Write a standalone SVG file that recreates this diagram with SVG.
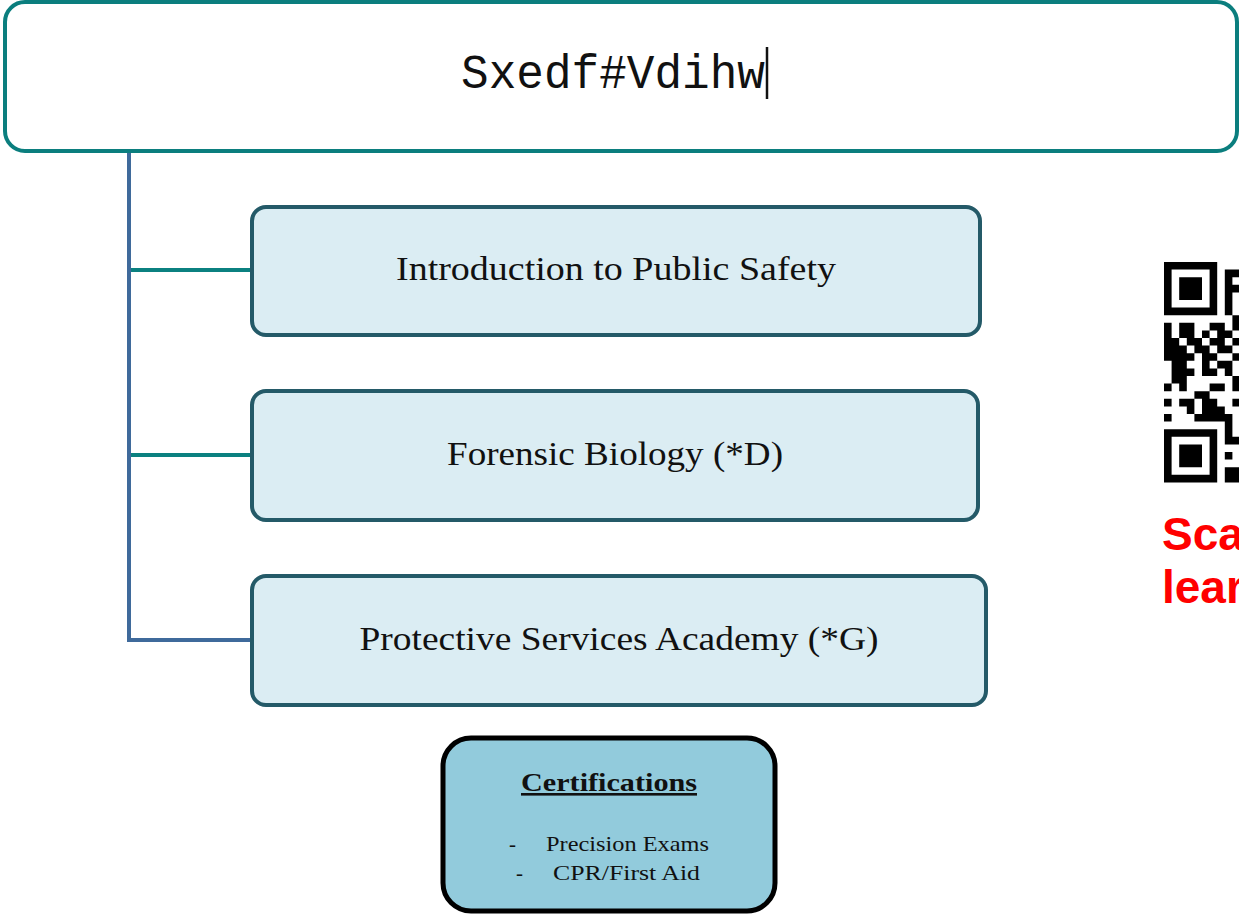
<svg xmlns="http://www.w3.org/2000/svg" width="1239" height="914" viewBox="0 0 1239 914">
<style>
.node{fill:#dbedf3;stroke:#245a68;stroke-width:4}
.lbl{font-family:"Liberation Serif",serif;font-size:33px;fill:#111;text-anchor:middle}
.conn{fill:none;stroke-width:4}
.blue{stroke:#3f6a9b}
.teal{stroke:#0b8180}
.small{font-family:"Liberation Serif",serif;font-size:21px;fill:#111}
.red{font-family:"Liberation Sans",Arial,sans-serif;font-weight:bold;font-size:46px;fill:#ff0000}
</style>
<rect width="1239" height="914" fill="#ffffff"/>
<g id="connectors">
<path class="conn blue" d="M129 151V640H252"/>
<path class="conn teal" d="M131 270H252"/>
<path class="conn teal" d="M131 455H252"/>
</g>
<g id="title">
<rect x="5" y="2" width="1232" height="149" rx="20" fill="#ffffff" stroke="#0b7e7e" stroke-width="4"/>
<text x="461" y="88" font-family="Liberation Mono,monospace" font-size="48" fill="#111" textLength="304" lengthAdjust="spacingAndGlyphs">Sxedf#Vdihw</text>
<line x1="767" y1="47" x2="767" y2="99" stroke="#111" stroke-width="2.5"/>
</g>
<g id="node1">
<rect class="node" x="252" y="207" width="728" height="128" rx="14"/>
<text class="lbl" x="616" y="280" textLength="440" lengthAdjust="spacingAndGlyphs">Introduction to Public Safety</text>
</g>
<g id="node2">
<rect class="node" x="252" y="391" width="726" height="129" rx="14"/>
<text class="lbl" x="615" y="465" textLength="336" lengthAdjust="spacingAndGlyphs">Forensic Biology (*D)</text>
</g>
<g id="node3">
<rect class="node" x="252" y="576" width="734" height="129" rx="14"/>
<text class="lbl" x="619" y="650" textLength="519" lengthAdjust="spacingAndGlyphs">Protective Services Academy (*G)</text>
</g>
<g id="certifications">
<rect x="443" y="738" width="332" height="173" rx="28" fill="#92cbdc" stroke="#000" stroke-width="5"/>
<text x="609" y="791" font-family="Liberation Serif,serif" font-size="26" font-weight="bold" fill="#111" text-anchor="middle" text-decoration="underline" textLength="176" lengthAdjust="spacingAndGlyphs">Certifications</text>
<text class="small" x="509" y="851">-</text>
<text class="small" x="546" y="851" textLength="163" lengthAdjust="spacingAndGlyphs">Precision Exams</text>
<text class="small" x="516" y="880">-</text>
<text class="small" x="553" y="880" textLength="147" lengthAdjust="spacingAndGlyphs">CPR/First Aid</text>
</g>
<g id="qr" transform="translate(1164 262) scale(7.6)" fill="#000">
<path fill-rule="evenodd" d="M0 0h7v7h-7z M1 1v5h5v-5z M2 2h3v3h-3z"/>
<path fill-rule="evenodd" d="M0 22h7v7h-7z M1 23v5h5v-5z M2 24h3v3h-3z"/>
<path d="M8 1h2v1h-2z M8 2h1v5h-1z M9 3h1v1h-1z M9 7h1v1h-1z
M0 8h1v5h-1z M2 8h2v2h-2z M6 8h2v1h-2z M5 9h1v1h-1z M7 9h2v1h-2z M9 8h1v1h-1z
M1 10h1v1h-1z M3 10h2v1h-2z M6 10h2v1h-2z M9 10h1v1h-1z
M1 11h2v4h-2z M4 11h2v1h-2z M7 11h2v1h-2z
M3 12h1v1h-1z M5 12h2v1h-2z M9 12h1v1h-1z
M5 13h1v1h-1z M7 13h2v1h-2z
M2 14h2v1h-2z M5 14h2v1h-2z M8 14h1v1h-1z
M1 15h2v1h-2z M9 15h1v2h-1z
M0 16h1v1h-1z M2 16h1v1h-1z M6 16h2v1h-2z
M4 17h2v1h-2z
M0 18h1v1h-1z M2 18h2v1h-2z M5 18h2v1h-2z M9 18h1v1h-1z
M3 19h1v1h-1z M5 19h3v1h-3z
M0 20h1v1h-1z M4 20h5v1h-5z M8 21h1v1h-1z
M8 22h1v2h-1z M9 23h1v1h-1z M8 25h1v1h-1z M8 27h2v2h-2z"/>
</g>
<g id="qr-caption">
<text class="red" x="1162" y="550">Sca</text>
<text class="red" x="1162" y="603">lear</text>
</g>
</svg>
